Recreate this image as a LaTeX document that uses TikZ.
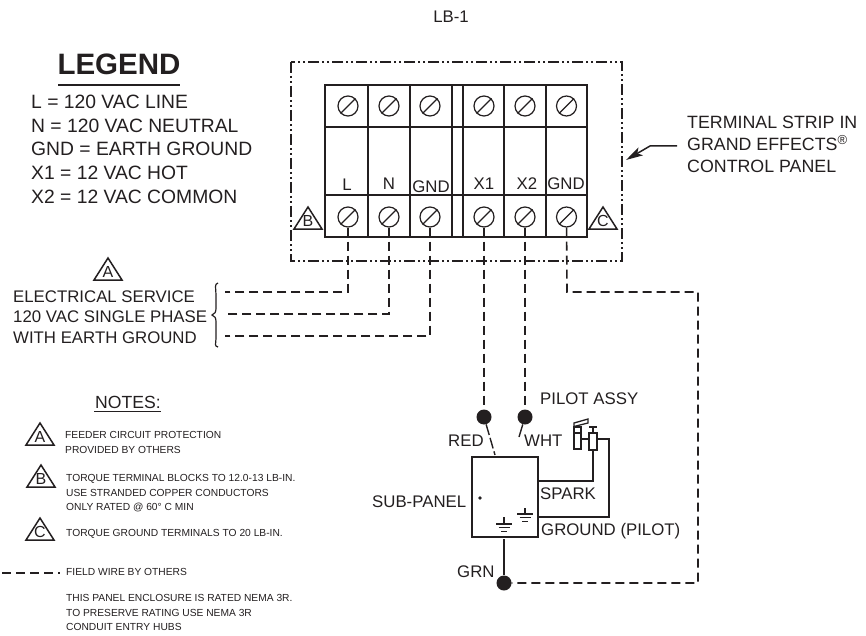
\documentclass[tikz,border=0pt]{standalone}
\usepackage{fontspec}
\setmainfont{Liberation Sans}
\usetikzlibrary{arrows.meta,decorations.pathreplacing}
\definecolor{ink}{HTML}{231F20}
\tikzset{
 base/.style={draw=ink,line width=1.3pt},
 field/.style={draw=ink,line width=1.6pt,dash pattern=on 9pt off 5pt},
 chain/.style={draw=ink,line width=1.3pt,dash pattern=on 11pt off 3pt on 2pt off 3pt on 2pt off 3pt},
 lab/.style={text=ink,font=\fontsize{16.8}{18}\selectfont,inner sep=0pt,anchor=west,align=left},
 leg/.style={text=ink,font=\fontsize{19.3}{20}\selectfont,inner sep=0pt,anchor=west,align=left},
 tiny/.style={text=ink,font=\fontsize{10.25}{14.5}\selectfont,inner sep=0pt,anchor=north west,align=left},
 jn/.style={circle,fill=ink,minimum size=15pt,inner sep=0pt},
 tri/.style={text=ink,font=\fontsize{16}{16}\selectfont,inner sep=0pt},
}
\newcommand{\screw}[3]{\node[circle,draw=ink,line width=1.2pt,minimum size=20pt,inner sep=0pt] (#3) at (#1,#2) {};
 \draw[ink,line width=1.2pt] (#3.225) -- (#3.45);}
\newcommand{\deltamark}[3]{\draw[ink,line width=1.5pt,line join=miter] (#1-14,#2+11) -- (#1,#2-11) -- (#1+14,#2+11) -- cycle;
 \node[tri] at (#1,#2+3) {#3};}
\newcommand{\grnd}[2]{\draw[ink,line width=1.2pt] (#1-8,#2) -- (#1+8,#2) (#1-5.5,#2+3.7) -- (#1+5.5,#2+3.7) (#1-3,#2+7.4) -- (#1+3,#2+7.4);}
\begin{document}
\begin{tikzpicture}[x=1pt,y=-1pt]
\useasboundingbox (0,0) rectangle (866,636);
\node[lab,anchor=center] at (451,17) {LB-1};
% legend
\node[text=ink,font=\bfseries\fontsize{29.5}{30}\selectfont,inner sep=0pt] (legend) at (119,64) {LEGEND};
\draw[ink,line width=1.6pt] (58,85) -- (180,85);
\node[leg] at (31,102) {L = 120 VAC LINE};
\node[leg] at (31,126) {N = 120 VAC NEUTRAL};
\node[leg] at (31,149) {GND = EARTH GROUND};
\node[leg] at (31,173) {X1 = 12 VAC HOT};
\node[leg] at (31,197) {X2 = 12 VAC COMMON};
% enclosure
\draw[chain] (291,62) rectangle (622,261);
% strip
\draw[base] (325,85) rectangle (587,237);
\draw[base] (325,127) -- (587,127) (325,195) -- (587,195);
\foreach \x in {368,410,452,463,504,546} \draw[base] (\x,85) -- (\x,237);
\screw{348}{106}{t1}\screw{389}{106}{t2}\screw{430}{106}{t3}\screw{484}{106}{t4}\screw{525}{106}{t5}\screw{566.5}{106}{t6}
\screw{348}{217}{b1}\screw{389}{217}{b2}\screw{430}{217}{b3}\screw{484}{217}{b4}\screw{525}{217}{b5}\screw{566.5}{217}{b6}
\node[lab,anchor=center] at (347,185) {L};
\node[lab,anchor=center] at (389,184) {N};
\node[lab,anchor=center] at (431,187) {GND};
\node[lab,anchor=center] at (484,184) {X1};
\node[lab,anchor=center] at (527,184) {X2};
\node[lab,anchor=center] at (566,184) {GND};
\deltamark{308}{218}{B}
\deltamark{603}{218}{C}
% callout
\node[lab,font=\fontsize{17.8}{18}\selectfont] at (687,122) {TERMINAL STRIP IN};
\node[lab,font=\fontsize{17.8}{18}\selectfont] at (687,143) {GRAND EFFECTS\textsuperscript{\fontsize{13}{13}\selectfont ®}};
\node[lab,font=\fontsize{17.8}{18}\selectfont] at (687,166) {CONTROL PANEL};
\coordinate (ca) at (677,146);
\coordinate (cb) at (650,146);
\coordinate (cc) at (626,160);
\draw[base,line width=1.5pt,-{Stealth[length=17pt,width=9pt,inset=4pt]}] (ca) -- (cb) -- (cc);
% service
\deltamark{108}{269}{A}
\node[lab] at (13,297) {ELECTRICAL SERVICE};
\node[lab] at (13,317) {120 VAC SINGLE PHASE};
\node[lab] at (13,338) {WITH EARTH GROUND};
\draw[ink,line width=1.2pt] (218,283) .. controls (214,284) and (216,288) .. (216,295) -- (216,308) .. controls (216,312) and (215,314) .. (212,315) .. controls (215,316) and (216,318) .. (216,322) -- (216,338) .. controls (216,344) and (214,346) .. (218,347);
\coordinate (s1) at (225,292);
\coordinate (s2) at (225,314);
\coordinate (s3) at (225,336);
\draw[field] (b1) -- (348,292) -- (s1);
\draw[field] (b2) -- (389,314) -- (s2);
\draw[field] (b3) -- (430,336) -- (s3);
% subpanel
\node[jn] (dred) at (484,417) {};
\node[jn] (dwht) at (525,417) {};
\node[jn] (dgrn) at (504,583) {};
\draw[field] (b4) -- (dred);
\draw[field] (b5) -- (dwht);
\draw[field] (b6) -- (567,292) -- (698,292) -- (698,583) -- (dgrn);
\draw[base,line width=1.2pt] (472,457) rectangle (538,537);
\draw[ink,line width=1.4pt,dash pattern=on 11pt off 3pt] (dred) -- (495,455);
\draw[ink,line width=1.4pt] (dwht) -- (519,437);
\fill[ink] (480,498) circle (1.8);
\grnd{525}{514}
\draw[ink,line width=1.2pt] (525,508) -- (525,514);
\grnd{504}{524}
\draw[ink,line width=1.2pt] (504,517) -- (504,524);
\draw[ink,line width=1.5pt] (504,539) -- (dgrn);
\draw[ink,line width=1.5pt] (538,481) -- (593,481) -- (593,451);
\draw[ink,line width=1.5pt] (538,517) -- (609,517) -- (609,439) -- (597,439);
\draw[ink,line width=1.5pt] (589,433) rectangle (597,450);
\draw[ink,line width=1.5pt] (593,433) -- (593,427) (589,427) -- (597,427);
\draw[ink,line width=1.5pt] (574,427) rectangle (581,449);
\draw[ink,line width=1.3pt] (574,433) -- (581,433);
\draw[ink,line width=1.5pt] (581,439) -- (589,439);
\draw[ink,line width=1.3pt] (574,423) -- (588,419) -- (588,423) -- (574,426.5) -- cycle;
\node[lab] at (540,399) {PILOT ASSY};
\node[lab] at (448,441) {RED};
\node[lab] at (524,441) {WHT};
\node[lab] at (372,502) {SUB-PANEL};
\node[lab] at (540,494) {SPARK};
\node[lab] at (541,531) {GROUND (PILOT)};
\node[lab] at (457,572) {GRN};
% notes
\node[lab,anchor=center,font=\fontsize{17.6}{18}\selectfont] at (128,402) {NOTES:};
\draw[ink,line width=0.9pt] (94,411.5) -- (161,411.5);
\deltamark{40}{434}{A}
\deltamark{41}{476}{B}
\deltamark{40}{529}{C}
\node[tiny] at (65,431.5) {FEEDER CIRCUIT PROTECTION\\PROVIDED BY OTHERS};
\node[tiny] at (66,474.5) {TORQUE TERMINAL BLOCKS TO 12.0-13 LB-IN.\\USE STRANDED COPPER CONDUCTORS\\ONLY RATED @ 60° C MIN};
\node[tiny] at (66,529.5) {TORQUE GROUND TERMINALS TO 20 LB-IN.};
\coordinate (k1) at (2,573);
\coordinate (k2) at (60,573);
\draw[field] (k1) -- (k2);
\node[tiny] at (66,568.5) {FIELD WIRE BY OTHERS};
\node[tiny] at (66,594.5) {THIS PANEL ENCLOSURE IS RATED NEMA 3R.\\TO PRESERVE RATING USE NEMA 3R\\CONDUIT ENTRY HUBS};
\end{tikzpicture}
\end{document}
